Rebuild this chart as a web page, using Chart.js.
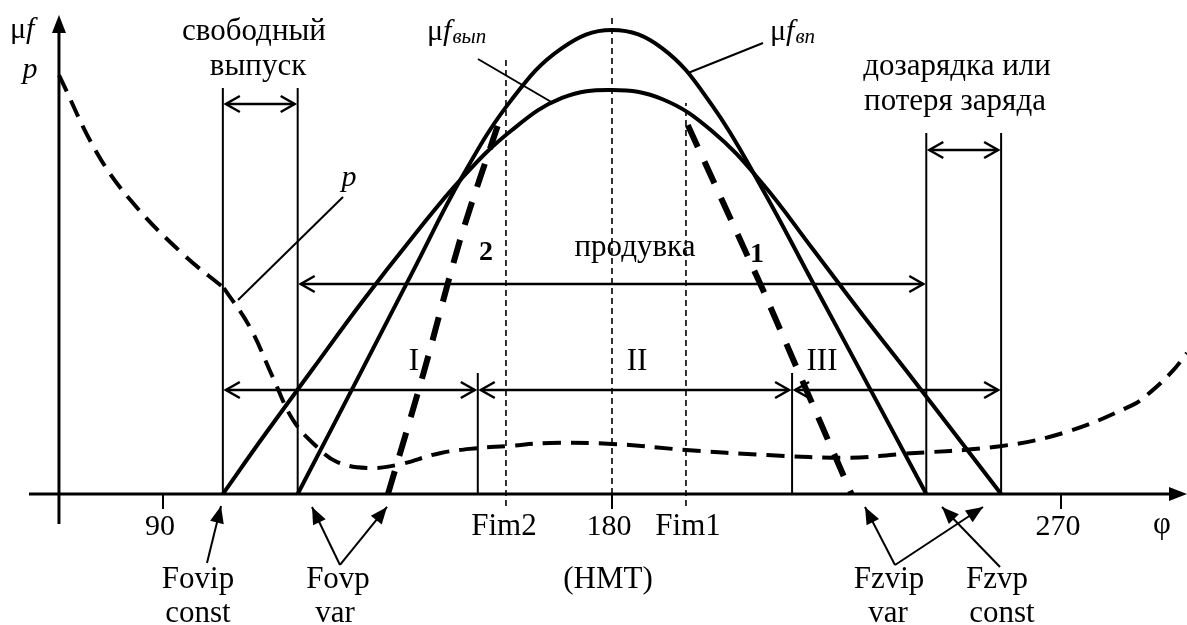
<!DOCTYPE html>
<html>
<head>
<meta charset="utf-8">
<script src="https://cdn.jsdelivr.net/npm/chart.js@4.4.1/dist/chart.umd.min.js"></script>
<style>
  html, body { margin: 0; padding: 0; background: #fff; overflow: hidden; }
  canvas { display: block; }
</style>
</head>
<body>
<canvas id="c" width="1187" height="625"></canvas>
<script>
// Crank angle φ, degrees; flow areas μf and pressure p in relative units.

// μf_вп — inlet ports
const phiInlet = [117, 129.89, 139.91, 149.93, 159.96, 169.98, 180, 190.02, 200.04, 210.07, 220.09, 230.11, 243];
const muInlet  = [0, 26.7, 47.6, 68.3, 85.1, 96.1, 100, 96.1, 83.8, 65.9, 45.9, 25.9, 0];

// μf_вып — exhaust ports
const phiExhaust = [102, 109.85, 119.87, 129.89, 139.91, 149.93, 159.96, 169.98, 180, 190.02, 200.04, 210.07, 220.09, 230.11, 240.13, 250.15, 258];
const muExhaust  = [0, 11.96, 26.72, 41.38, 55.17, 68.1, 78.45, 85.35, 87.07, 85.13, 78.23, 67.03, 53.02, 38.79, 25.0, 11.0, 0];

// variable timing, law 2 (opening) and law 1 (closing)
const phiLaw2 = [135.10, 142.12, 149.73, 157.95];
const muLaw2  = [0, 25.65, 55.39, 82.11];
const phiLaw1 = [195.2, 210.1, 228];
const muLaw1  = [79.5, 44.4, 0];

// cylinder pressure p, before and after exhaust opening
const phiPressA = [69.15, 76.77, 83.99, 94.01, 102.2];
const pressA    = [90.3, 73.5, 62.7, 51.7, 44.4];
const phiPressB = [102.2, 107.4, 112.0, 116.1, 120.9, 124.9, 130.9, 136.9, 145.5, 153.1, 158.8, 167.6, 180, 194.8, 211.1, 227.7, 237.7, 257.8, 271.2, 284.4, 287.2, 292.2, 295.26];
const pressB    = [44.4, 36.0, 25.2, 15.9, 10.1, 6.9, 5.6, 6.25, 8.8, 9.9, 10.3, 11.0, 10.8, 9.5, 8.4, 7.8, 8.6, 10.3, 13.4, 19.2, 21.3, 26.3, 30.4];

// timing events
const exhaustEvents = [102, 258];       // Fovip, Fzvp (const)
const inletEvents   = [117, 243];       // Fovp, Fzvip
const zoneBounds    = [153.1, 216.1];   // I | II | III
const fimEvents     = [158.75, 194.83]; // Fim2, Fim1
const tickValues    = [90, 180, 270];

const pts = (xs, ys) => xs.map((x, i) => ({ x, y: ys[i] }));
const FONT = '"Liberation Serif", "Times New Roman", serif';

function curve(xs, ys, width, dash, tension) {
  return {
    data: pts(xs, ys), showLine: true, borderColor: '#000', borderWidth: width,
    borderDash: dash || [], pointRadius: 0, fill: false,
    cubicInterpolationMode: 'default', tension: tension === undefined ? 0.4 : tension,
    borderCapStyle: 'butt', borderJoinStyle: 'round'
  };
}

const S = {
  yAxisAt: 69.15, axisLeft: 63.14, axisRight: 295.26, axisBottom: -6.47, axisTop: 103.23,
  exhaustTop: 87.5, inletTopL: 87.5, inletTopR: 77.8, zoneTop: 26.08,
  fimTop: [94.18, 84.27], fimBottom: -2.59, tdcTop: 102.59, tickBottom: -3.23,
  freeY: 84.05, chargeY: 74.14, scavY: 45.26, zoneY: 22.41
};

const drawPlugin = {
  id: 'diagram',
  afterDatasetsDraw(chart) {
    const ctx = chart.ctx, xs = chart.scales.x, ys = chart.scales.y;
    const X = v => xs.getPixelForValue(v), Y = v => ys.getPixelForValue(v);
    ctx.save();
    ctx.strokeStyle = '#000'; ctx.fillStyle = '#000'; ctx.lineCap = 'butt';

    const line = (x1, y1, x2, y2, w, dash) => {
      ctx.beginPath(); ctx.lineWidth = w; ctx.setLineDash(dash || []);
      ctx.moveTo(X(x1), Y(y1)); ctx.lineTo(X(x2), Y(y2)); ctx.stroke(); ctx.setLineDash([]);
    };
    const filledHead = (tx, ty, fx, fy, len, half) => {
      const ax = X(tx), ay = Y(ty), bx = X(fx), by = Y(fy);
      const d = Math.hypot(ax - bx, ay - by), ux = (ax - bx) / d, uy = (ay - by) / d;
      ctx.beginPath();
      ctx.moveTo(ax, ay);
      ctx.lineTo(ax - ux * len - uy * half, ay - uy * len + ux * half);
      ctx.lineTo(ax - ux * len + uy * half, ay - uy * len - ux * half);
      ctx.closePath(); ctx.fill();
    };
    const pointer = (fx, fy, tx, ty) => {
      line(fx, fy, tx, ty, 2);
      filledHead(tx, ty, fx, fy, 17, 7);
    };
    const openHead = (px, py, dir) => {
      ctx.beginPath(); ctx.lineWidth = 2.5;
      ctx.moveTo(px - dir * 14, py - 8); ctx.lineTo(px, py); ctx.lineTo(px - dir * 14, py + 8);
      ctx.stroke();
    };
    const dblArrow = (x1, x2, y) => {
      const a = X(x1) + 3, b = X(x2) - 3, py = Y(y);
      ctx.beginPath(); ctx.lineWidth = 2.5; ctx.moveTo(a, py); ctx.lineTo(b, py); ctx.stroke();
      openHead(a, py, -1); openHead(b, py, 1);
    };
    const text = (s, x, y, font, align) => {
      ctx.font = font; ctx.textAlign = align || 'center'; ctx.textBaseline = 'alphabetic';
      ctx.fillText(s, X(x), Y(y));
    };
    const muF = (x, y, sub) => {
      ctx.textAlign = 'left'; ctx.textBaseline = 'alphabetic';
      let px = X(x); const py = Y(y);
      ctx.font = `30px ${FONT}`; ctx.fillText('μ', px, py); px += ctx.measureText('μ').width;
      ctx.font = `italic 30px ${FONT}`; ctx.fillText('f', px, py); px += ctx.measureText('f').width + 1;
      if (sub) { ctx.font = `italic 21px ${FONT}`; ctx.fillText(sub, px, py + 3); }
    };

    // axes
    line(S.axisLeft, 0, S.axisRight - 3, 0, 3);
    filledHead(S.axisRight, 0, S.axisLeft, 0, 18, 7);
    line(S.yAxisAt, S.axisBottom, S.yAxisAt, S.axisTop - 3, 3);
    filledHead(S.yAxisAt, S.axisTop, S.yAxisAt, 0, 18, 7);
    tickValues.forEach(v => line(v, 0, v, S.tickBottom, 2));

    // port timing verticals
    line(exhaustEvents[0], 0, exhaustEvents[0], S.exhaustTop, 2);
    line(inletEvents[0], 0, inletEvents[0], S.inletTopL, 2);
    line(inletEvents[1], 0, inletEvents[1], S.inletTopR, 2);
    line(exhaustEvents[1], 0, exhaustEvents[1], S.inletTopR, 2);
    zoneBounds.forEach(v => line(v, 0, v, S.zoneTop, 2));

    // thin dashed markers
    line(180, 0, 180, S.tdcTop, 1.6, [6, 4]);
    line(fimEvents[0], S.fimBottom, fimEvents[0], S.fimTop[0], 1.6, [6, 4]);
    line(fimEvents[1], S.fimBottom, fimEvents[1], S.fimTop[1], 1.6, [6, 4]);

    // interval arrows
    dblArrow(exhaustEvents[0], inletEvents[0], S.freeY);
    dblArrow(inletEvents[1], exhaustEvents[1], S.chargeY);
    dblArrow(inletEvents[0], inletEvents[1], S.scavY);
    dblArrow(exhaustEvents[0], zoneBounds[0], S.zoneY);
    dblArrow(zoneBounds[0], zoneBounds[1], S.zoneY);
    dblArrow(zoneBounds[1], exhaustEvents[1], S.zoneY);

    // leaders
    line(126.08, 64.0, 105.04, 41.81, 2);
    line(153.14, 93.75, 168.18, 84.27, 2);
    line(210.27, 97.2, 195.24, 90.73, 2);

    // event pointers
    pointer(98.82, -14.87, 101.63, -2.59);
    pointer(125.48, -15.30, 119.87, -2.80);
    pointer(125.48, -15.30, 134.90, -2.80);
    pointer(236.73, -15.30, 230.72, -2.80);
    pointer(236.73, -15.30, 254.37, -2.80);
    pointer(257.78, -15.73, 246.15, -2.80);

    // texts
    const f31 = `31px ${FONT}`;
    tickValues.forEach(v => {
      ctx.font = `30px ${FONT}`; ctx.textAlign = 'center'; ctx.textBaseline = 'alphabetic';
      ctx.fillText(String(v), X(v) - 3, Y(-8.84));
    });
    text('Fim2', 158.35, -8.84, f31);
    text('Fim1', 195.24, -8.84, f31);
    text('φ', 290.25, -8.41, f31);
    text('(HMT)', 179.2, -20.26, f31);
    text('Fovip', 97.02, -20.26, f31);
    text('const', 97.02, -27.59, f31);
    text('Fovp', 125.08, -20.26, f31);
    text('var', 124.48, -27.59, f31);
    text('Fzvip', 235.53, -20.26, f31);
    text('var', 235.33, -27.59, f31);
    text('Fzvp', 257.18, -20.26, f31);
    text('const', 258.18, -27.59, f31);

    text('свободный', 108.24, 97.84, f31);
    text('выпуск', 109.05, 90.30, f31);
    text('дозарядка или', 249.16, 90.30, f31);
    text('потеря заряда', 248.76, 82.76, f31);
    text('продувка', 184.61, 51.29, f31);
    text('2', 154.75, 50.43, `bold 28px ${FONT}`);
    text('1', 209.06, 50.0, `bold 28px ${FONT}`);
    text('I', 140.31, 26.72, f31);
    text('II', 185.01, 26.72, f31);
    text('III', 222.1, 26.72, f31);

    text('p', 63.34, 89.66, `italic 30px ${FONT}`);
    text('p', 127.29, 66.38, `italic 30px ${FONT}`);
    muF(59.33, 98.28);
    muF(142.92, 97.84, 'вып');
    muF(211.67, 97.84, 'вп');

    ctx.restore();
  }
};

new Chart(document.getElementById('c'), {
  type: 'scatter',
  data: {
    datasets: [
      curve(phiInlet, muInlet, 4),
      curve(phiExhaust, muExhaust, 4),
      curve(phiLaw2, muLaw2, 6, [24, 16], 0.3),
      curve(phiLaw1, muLaw1, 6, [24, 16], 0),
      curve(phiPressA, pressA, 4, [18, 10]),
      curve(phiPressB, pressB, 4, [18, 10])
    ]
  },
  options: {
    responsive: false, animation: false, devicePixelRatio: 1,
    layout: { padding: 0 },
    plugins: { legend: { display: false }, tooltip: { enabled: false } },
    scales: {
      x: { type: 'linear', min: 57.33, max: 295.26, display: false },
      y: { type: 'linear', min: -28.233, max: 106.466, display: false }
    }
  },
  plugins: [drawPlugin]
});
</script>
</body>
</html>
